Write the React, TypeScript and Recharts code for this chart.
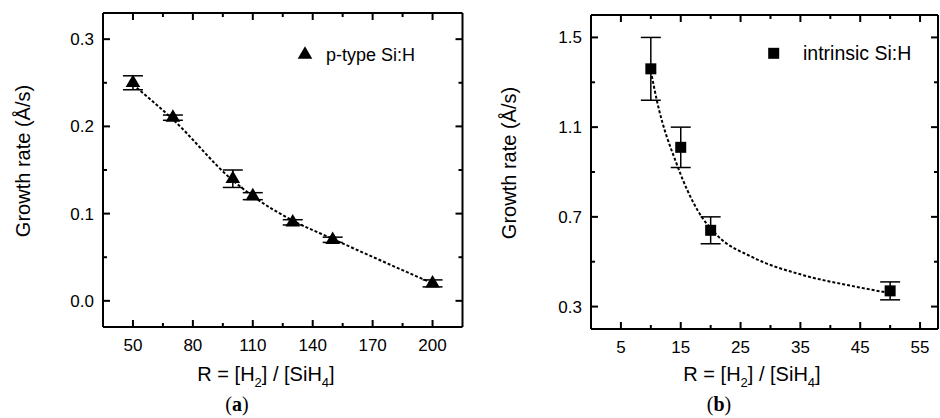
import React from 'react';
import { ComposedChart, Scatter, Line, XAxis, YAxis, ErrorBar } from 'recharts';

// ---- Panel (a): p-type Si:H ----
const pTypeR = [50, 70, 100, 110, 130, 150, 200];
const pTypeRate = [0.25, 0.21, 0.14, 0.12, 0.09, 0.07, 0.02];
const pTypeErr = [0.008, 0.003, 0.01, 0.004, 0.003, 0.003, 0.004];
const pFitR = [50, 70, 100, 110, 130, 150, 200];
const pFitRate = [0.248, 0.208, 0.138, 0.12, 0.092, 0.071, 0.02];

// ---- Panel (b): intrinsic Si:H ----
const iR = [10, 15, 20, 50];
const iRate = [1.36, 1.01, 0.64, 0.37];
const iErr = [0.14, 0.09, 0.06, 0.04];
const iFitR = [10, 11, 14.4, 17.8, 21, 27, 35.5, 44, 50];
const iFitRate = [1.35, 1.22, 0.93, 0.73, 0.62, 0.52, 0.44, 0.39, 0.36];

// ---- Ticks ----
const aXMajor = [50, 80, 110, 140, 170, 200];
const aXMinor = [65, 95, 125, 155, 185];
const aYMajor = [0, 0.1, 0.2, 0.3];
const aYMinor = [0.05, 0.15, 0.25];
const bXMajor = [5, 15, 25, 35, 45, 55];
const bXMinor = [10, 20, 30, 40, 50];
const bYMajor = [0.3, 0.7, 1.1, 1.5];
const bYMinor = [0.5, 0.9, 1.3];

const pData = pTypeR.map((x, i) => ({ x, y: pTypeRate[i], err: pTypeErr[i] }));
const pFit = pFitR.map((x, i) => ({ x, y: pFitRate[i] }));
const iData = iR.map((x, i) => ({ x, y: iRate[i], err: iErr[i] }));
const iFit = iFitR.map((x, i) => ({ x, y: iFitRate[i] }));

const FONT = '"Liberation Sans", Arial, sans-serif';

type Side = 'bottom' | 'top' | 'left' | 'right';

const makeTick = (side: Side, majors: number[], fmt?: (v: number) => string) => (props: any) => {
  const { x, y, payload } = props;
  const v = payload.value;
  const isMajor = majors.some((m) => Math.abs(m - v) < 1e-9);
  const len = isMajor ? 7 : 4;
  let line: any = null;
  if (side === 'bottom') line = <line x1={x} y1={y} x2={x} y2={y - len} stroke="#000" strokeWidth={2} />;
  if (side === 'top') line = <line x1={x} y1={y} x2={x} y2={y + len} stroke="#000" strokeWidth={2} />;
  if (side === 'left') line = <line x1={x} y1={y} x2={x + len} y2={y} stroke="#000" strokeWidth={2} />;
  if (side === 'right') line = <line x1={x} y1={y} x2={x - len} y2={y} stroke="#000" strokeWidth={2} />;
  let label: any = null;
  if (isMajor && fmt) {
    if (side === 'bottom')
      label = (
        <text x={x} y={y + 24} textAnchor="middle" fontSize={17} fill="#000" fontFamily={FONT}>
          {fmt(v)}
        </text>
      );
    if (side === 'left')
      label = (
        <text x={x - 9} y={y + 6} textAnchor="end" fontSize={17} fill="#000" fontFamily={FONT}>
          {fmt(v)}
        </text>
      );
  }
  return (
    <g>
      {line}
      {label}
    </g>
  );
};

const sortAll = (a: number[], b: number[]) => [...a, ...b].sort((p, q) => p - q);

const Triangle = (props: any) => {
  const { cx, cy } = props;
  if (cx == null || cy == null) return null;
  const hw = 7.3;
  const h = 12.5;
  return (
    <polygon
      points={`${cx - hw},${cy + h / 3} ${cx + hw},${cy + h / 3} ${cx},${cy - (2 * h) / 3}`}
      fill="#000"
    />
  );
};

const Square = (props: any) => {
  const { cx, cy } = props;
  if (cx == null || cy == null) return null;
  const s = 11;
  return <rect x={cx - s / 2} y={cy - s / 2} width={s} height={s} fill="#000" />;
};

const axisLine = { stroke: '#000', strokeWidth: 2 };

function Panel(props: {
  data: any[];
  fit: any[];
  xDomain: [number, number];
  yDomain: [number, number];
  xMajor: number[];
  xMinor: number[];
  yMajor: number[];
  yMinor: number[];
  xFmt: (v: number) => string;
  yFmt: (v: number) => string;
  margin: any;
  shape: any;
}) {
  const xt = sortAll(props.xMajor, props.xMinor);
  const yt = sortAll(props.yMajor, props.yMinor);
  return (
    <ComposedChart width={470} height={418} margin={props.margin}>
      <XAxis
        xAxisId="b"
        type="number"
        dataKey="x"
        domain={props.xDomain}
        allowDataOverflow
        ticks={xt}
        interval={0}
        height={1}
        tickSize={0}
        tickMargin={0}
        tickLine={false}
        axisLine={axisLine}
        tick={makeTick('bottom', props.xMajor, props.xFmt)}
      />
      <XAxis
        xAxisId="t"
        orientation="top"
        type="number"
        dataKey="x"
        domain={props.xDomain}
        allowDataOverflow
        ticks={xt}
        interval={0}
        height={1}
        tickSize={0}
        tickMargin={0}
        tickLine={false}
        axisLine={axisLine}
        tick={makeTick('top', props.xMajor)}
      />
      <YAxis
        yAxisId="l"
        type="number"
        dataKey="y"
        domain={props.yDomain}
        allowDataOverflow
        ticks={yt}
        interval={0}
        width={1}
        tickSize={0}
        tickMargin={0}
        tickLine={false}
        axisLine={axisLine}
        tick={makeTick('left', props.yMajor, props.yFmt)}
      />
      <YAxis
        yAxisId="r"
        orientation="right"
        type="number"
        dataKey="y"
        domain={props.yDomain}
        allowDataOverflow
        ticks={yt}
        interval={0}
        width={1}
        tickSize={0}
        tickMargin={0}
        tickLine={false}
        axisLine={axisLine}
        tick={makeTick('right', props.yMajor)}
      />
      <Line
        xAxisId="b"
        yAxisId="l"
        data={props.fit}
        dataKey="y"
        type="monotone"
        stroke="#000"
        strokeWidth={2}
        strokeDasharray="3 2"
        dot={false}
        activeDot={false}
        isAnimationActive={false}
      />
      <Scatter
        xAxisId="b"
        yAxisId="l"
        data={props.data}
        dataKey="y"
        shape={props.shape}
        isAnimationActive={false}
      >
        <ErrorBar dataKey="err" direction="y" width={10} stroke="#000" strokeWidth={1.5} />
      </Scatter>
    </ComposedChart>
  );
}

export default function App() {
  return (
    <div
      style={{
        position: 'absolute',
        left: 0,
        top: 0,
        width: 940,
        height: 418,
        background: '#fff',
        overflow: 'hidden',
      }}
    >
      <div style={{ position: 'absolute', left: 0, top: 0 }}>
        <Panel
          data={pData}
          fit={pFit}
          xDomain={[35, 215]}
          yDomain={[-0.03, 0.33]}
          xMajor={aXMajor}
          xMinor={aXMinor}
          yMajor={aYMajor}
          yMinor={aYMinor}
          xFmt={(v) => String(v)}
          yFmt={(v) => v.toFixed(1)}
          margin={{ top: 12, left: 102, right: 6.5, bottom: 90 }}
          shape={Triangle}
        />
      </div>
      <div style={{ position: 'absolute', left: 470, top: 0 }}>
        <Panel
          data={iData}
          fit={iFit}
          xDomain={[0, 58]}
          yDomain={[0.2, 1.6]}
          xMajor={bXMajor}
          xMinor={bXMinor}
          yMajor={bYMajor}
          yMinor={bYMinor}
          xFmt={(v) => String(v)}
          yFmt={(v) => v.toFixed(1)}
          margin={{ top: 14, left: 120, right: 1, bottom: 88 }}
          shape={Square}
        />
      </div>
      <svg
        width={940}
        height={418}
        style={{ position: 'absolute', left: 0, top: 0, pointerEvents: 'none' }}
        fontFamily={FONT}
      >
        {/* Y axis titles */}
        <text transform="translate(30,161) rotate(-90)" textAnchor="middle" fontSize={20} fill="#000">
          Growth rate (Å/s)
        </text>
        <text transform="translate(516,163) rotate(-90)" textAnchor="middle" fontSize={20} fill="#000">
          Growth rate (Å/s)
        </text>
        {/* X axis titles */}
        <text x={266} y={381} textAnchor="middle" fontSize={20} fill="#000">
          R = [H<tspan dy={6} fontSize={13}>2</tspan>
          <tspan dy={-6}>] / [SiH</tspan>
          <tspan dy={6} fontSize={13}>4</tspan>
          <tspan dy={-6}>]</tspan>
        </text>
        <text x={752} y={381} textAnchor="middle" fontSize={20} fill="#000">
          R = [H<tspan dy={6} fontSize={13}>2</tspan>
          <tspan dy={-6}>] / [SiH</tspan>
          <tspan dy={6} fontSize={13}>4</tspan>
          <tspan dy={-6}>]</tspan>
        </text>
        {/* Captions */}
        <text x={237} y={411} textAnchor="middle" fontSize={20} fill="#000" fontFamily='"Liberation Serif", "Times New Roman", serif'>
          (<tspan fontWeight="bold">a</tspan>)
        </text>
        <text x={719} y={411} textAnchor="middle" fontSize={20} fill="#000" fontFamily='"Liberation Serif", "Times New Roman", serif'>
          (<tspan fontWeight="bold">b</tspan>)
        </text>
        {/* Legends */}
        <polygon points="297.7,58.7 312.3,58.7 305,46.2" fill="#000" />
        <text x={326} y={61} fontSize={18} fill="#000">
          p-type Si:H
        </text>
        <rect x={768.2} y={47.8} width={11} height={11} fill="#000" />
        <text x={803} y={60} fontSize={19.5} fill="#000">
          intrinsic Si:H
        </text>
      </svg>
    </div>
  );
}
